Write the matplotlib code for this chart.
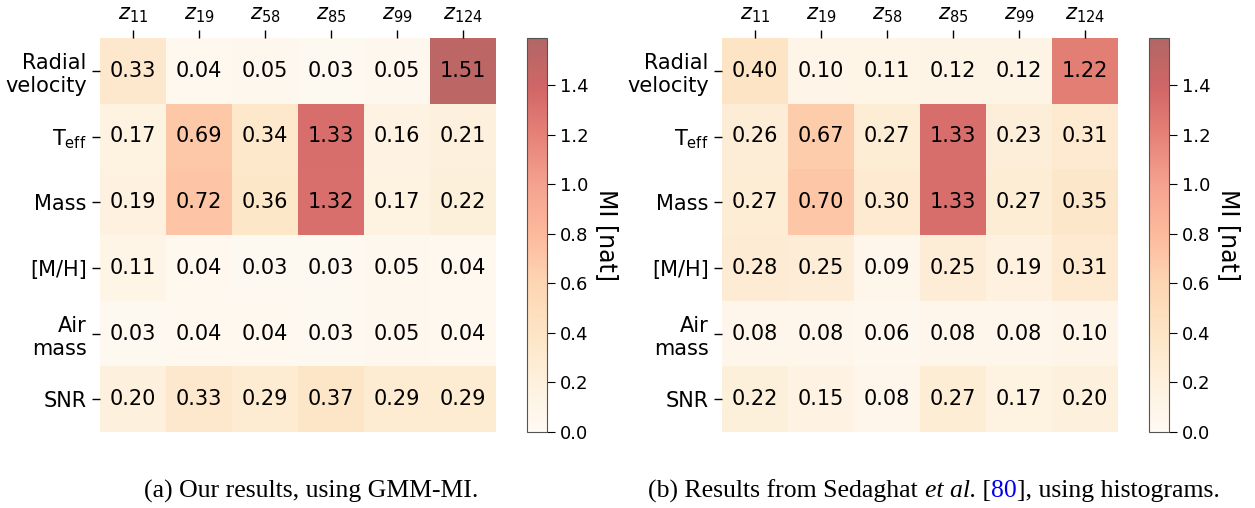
import matplotlib
matplotlib.use("Agg")
import matplotlib.pyplot as plt
import numpy as np

latents = ["$z_{11}$", "$z_{19}$", "$z_{58}$", "$z_{85}$", "$z_{99}$", "$z_{124}$"]
params = ["Radial\nvelocity", "T$_{\\rm eff}$", "Mass", "[M/H]", "Air\nmass", "SNR"]

mi_gmm = [
    [0.33, 0.04, 0.05, 0.03, 0.05, 1.51],
    [0.17, 0.69, 0.34, 1.33, 0.16, 0.21],
    [0.19, 0.72, 0.36, 1.32, 0.17, 0.22],
    [0.11, 0.04, 0.03, 0.03, 0.05, 0.04],
    [0.03, 0.04, 0.04, 0.03, 0.05, 0.04],
    [0.20, 0.33, 0.29, 0.37, 0.29, 0.29],
]
mi_hist = [
    [0.40, 0.10, 0.11, 0.12, 0.12, 1.22],
    [0.26, 0.67, 0.27, 1.33, 0.23, 0.31],
    [0.27, 0.70, 0.30, 1.33, 0.27, 0.35],
    [0.28, 0.25, 0.09, 0.25, 0.19, 0.31],
    [0.08, 0.08, 0.06, 0.08, 0.08, 0.10],
    [0.22, 0.15, 0.08, 0.27, 0.17, 0.20],
]

VMAX = 1.59
W, H = 1255, 508

fig = plt.figure(figsize=(W / 100, H / 100), dpi=100)


def px(x0, y0, x1, y1):
    # pixel box (top-left origin) -> figure fraction
    return [x0 / W, 1 - y1 / H, (x1 - x0) / W, (y1 - y0) / H]


def heatmap(ax, cax, data):
    data = np.array(data)
    im = ax.imshow(data, cmap="OrRd", vmin=0, vmax=VMAX, alpha=0.6, aspect="auto")
    for i in range(data.shape[0]):
        for j in range(data.shape[1]):
            ax.text(j, i, f"{data[i, j]:.2f}", ha="center", va="center", fontsize=15, color="black")
    ax.set_xticks(range(len(latents)))
    ax.set_xticklabels(latents, fontsize=15)
    ax.set_yticks(range(len(params)))
    ax.set_yticklabels(params, fontsize=15)
    ax.xaxis.tick_top()
    ax.tick_params(length=6, width=1)
    for s in ax.spines.values():
        s.set_visible(False)
    cb = fig.colorbar(im, cax=cax)
    cb.set_ticks(np.arange(0, 1.41, 0.2))
    cb.ax.tick_params(labelsize=13, length=6)
    cb.set_label("MI [nat]", fontsize=17, rotation=270, labelpad=22)
    cb.outline.set_edgecolor("#555555")
    return im


ax1 = fig.add_axes(px(100, 38, 496, 432))
cax1 = fig.add_axes(px(527, 38, 547, 432))
heatmap(ax1, cax1, mi_gmm)

ax2 = fig.add_axes(px(722, 38, 1118, 432))
cax2 = fig.add_axes(px(1149, 38, 1169, 432))
heatmap(ax2, cax2, mi_hist)

# captions
serif = "Liberation Serif"
cap_fs = 18.5
cap_y = 1 - 491 / H
fig.text(311 / W, cap_y, "(a) Our results, using GMM-MI.", ha="center", va="center",
         fontsize=cap_fs, family=serif)

pieces = [
    ("(b) Results from Sedaghat ", "normal", "black"),
    ("et al.", "italic", "black"),
    (" [", "normal", "black"),
    ("80", "normal", "#0000ee"),
    ("], using histograms.", "normal", "black"),
]
renderer = fig.canvas.get_renderer()
widths = []
for s, style, c in pieces:
    t = fig.text(0, 0, s, fontsize=cap_fs, family=serif, style=style)
    widths.append(t.get_window_extent(renderer).width)
    t.remove()
x = 934 - sum(widths) / 2
for (s, style, c), w in zip(pieces, widths):
    fig.text(x / W, cap_y, s, ha="left", va="center", fontsize=cap_fs, family=serif,
             style=style, color=c)
    x += w

fig.savefig("out.png", dpi=100)
